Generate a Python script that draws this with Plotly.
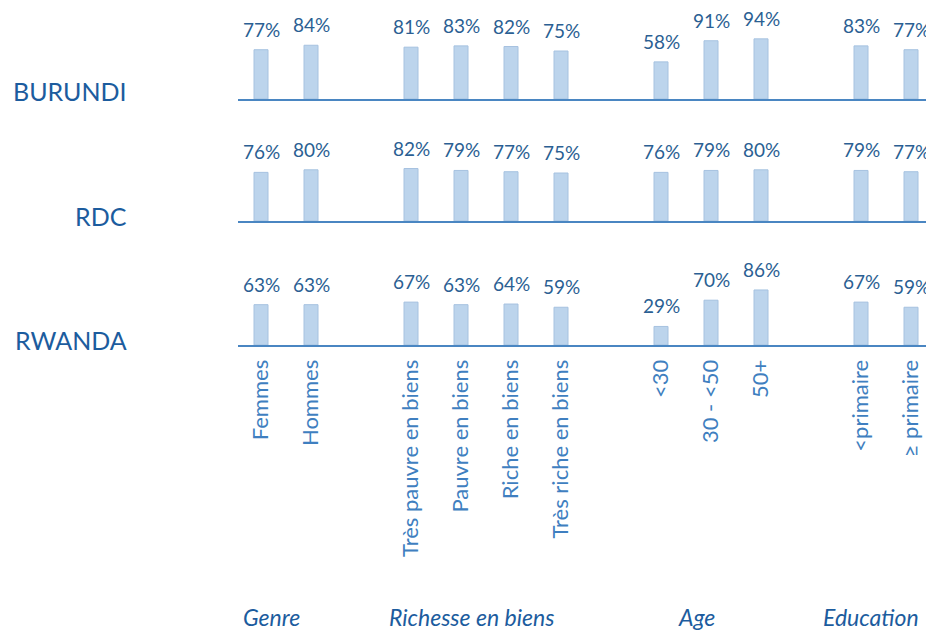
import plotly.graph_objects as go

# ---- data ----
countries = ["BURUNDI", "RDC", "RWANDA"]
groups = ["Genre", "Richesse en biens", "Age", "Education"]
group_categories = [
    ["Femmes", "Hommes"],
    ["Très pauvre en biens", "Pauvre en biens", "Riche en biens", "Très riche en biens"],
    ["<30", "30 - <50", "50+"],
    ["<primaire", "≥ primaire"],
]
burundi = [77, 84, 81, 83, 82, 75, 58, 91, 94, 83, 77]
rdc = [76, 80, 82, 79, 77, 75, 76, 79, 80, 79, 77]
rwanda = [63, 63, 67, 63, 64, 59, 29, 70, 86, 67, 59]
values = [burundi, rdc, rwanda]

# ---- category order with spacer slots between groups ----
categories = []
order = []
for gi, cats in enumerate(group_categories):
    if gi > 0:
        order.append(" " * gi)
    order.extend(cats)
    categories.extend(cats)

W, H = 926, 632
baselines = [99, 221, 345]
tops = [0, 110, 232]
row_label_y = [91, 216, 340]
px_per_pct = 0.64


def px_x(p):
    return p / W


def px_y(p):
    return 1 - p / H


TXT = "#2b5f93"
TICK = "#3f7fc0"
TITLE = "#1c5c9e"
FONT = "Lato"

fig = go.Figure()
annotations = []
for i, (country, vals) in enumerate(zip(countries, values)):
    suf = "" if i == 0 else str(i + 1)
    fig.add_trace(go.Bar(
        x=categories, y=vals,
        xaxis="x" + suf, yaxis="y" + suf,
        marker=dict(color="#bcd4ec", line=dict(color="#a6c2e0", width=1)),
        hoverinfo="x+y", showlegend=False,
    ))
    for c, v in zip(categories, vals):
        annotations.append(dict(
            x=c, y=v, xref="x" + suf, yref="y" + suf, text=f"{v}%",
            showarrow=False, yanchor="bottom", yshift=7,
            font=dict(family=FONT, size=19, color=TXT),
        ))
    annotations.append(dict(
        x=px_x(129), y=px_y(row_label_y[i]), xref="paper", yref="paper",
        text=country, showarrow=False, xanchor="right", yanchor="middle",
        font=dict(family=FONT, size=25, color=TITLE),
    ))

# group titles
for g, cats in zip(groups, group_categories):
    i0 = order.index(cats[0])
    i1 = order.index(cats[-1])
    annotations.append(dict(
        x=(i0 + i1) / 2, y=px_y(617), xref="x3", yref="paper", text=g,
        showarrow=False, xanchor="center", yanchor="middle", xshift=-15,
        font=dict(family=FONT, size=23, color=TITLE, style="italic"),
    ))

layout = dict(
    width=W, height=H,
    margin=dict(l=0, r=0, t=0, b=0),
    paper_bgcolor="white", plot_bgcolor="white",
    bargap=0.72,
    annotations=annotations,
)
x_left = 238
x_right = W
xrange = [(x_left - 261) / 50, (x_right - 261) / 50]
for i in range(3):
    suf = "" if i == 0 else str(i + 1)
    ykey = "y" + suf
    layout["xaxis" + suf] = dict(
        domain=[px_x(x_left), 1], range=xrange, type="category",
        categoryorder="array", categoryarray=order,
        anchor=ykey, showline=True, linecolor="#4a86c2", linewidth=2,
        showgrid=False, zeroline=False, ticks="",
        showticklabels=(i == 2), tickangle=-90,
        tickfont=dict(family=FONT, size=22, color=TICK),
        ticklabelstandoff=4,
        fixedrange=True,
    )
    layout["yaxis" + suf] = dict(
        domain=[px_y(baselines[i]), px_y(tops[i])],
        range=[0, (baselines[i] - tops[i]) / px_per_pct],
        anchor="x" + suf, visible=False, fixedrange=True,
    )

fig.update_layout(**layout)
fig.write_html(
    "out.html",
    config={"displayModeBar": False},
    post_script="document.body.style.margin='0';document.body.style.overflow='hidden';",
)
